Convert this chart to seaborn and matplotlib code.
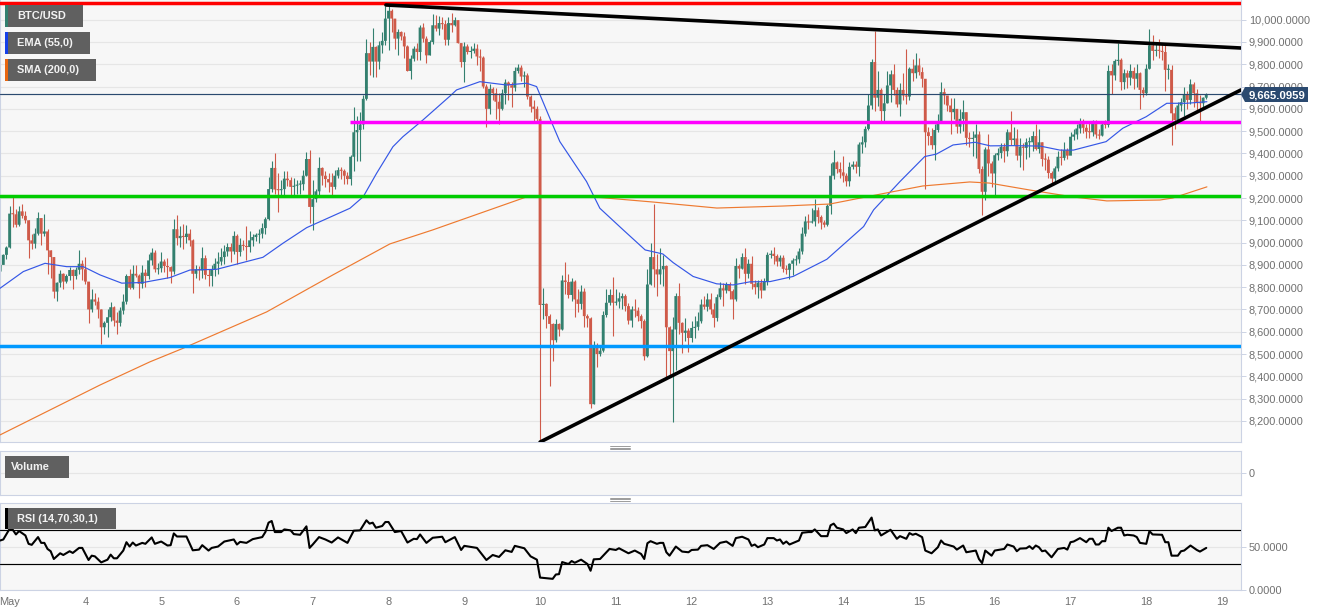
import numpy as np
import pandas as pd
import seaborn as sns
import matplotlib.pyplot as plt
from matplotlib.lines import Line2D
from matplotlib.patches import Polygon, Rectangle
from matplotlib.ticker import FuncFormatter

W, H = 1331, 615

# hourly candles, first one is 2 May 21:00, one row per day
closes = [
    8900, 8945, 8978,
    9130, 9127, 9080, 9140, 9120, 9100, 9010, 8995, 9040, 9110, 9040, 9050, 8965, 8935, 8780, 8820, 8860, 8825, 8850, 8877, 8850, 8878, 8905, 8880,
    8825, 8700, 8745, 8735, 8700, 8620, 8640, 8665, 8710, 8650, 8640, 8695, 8735, 8850, 8797, 8860, 8852, 8815, 8865, 8850, 8920, 8955, 8880, 8885,
    8915, 8895, 8890, 8870, 9060, 9020, 9030, 9025, 9040, 9010, 8860, 8880, 8875, 8930, 8855, 8850, 8880, 8905, 8915, 8935, 8960, 8980, 8960, 9030,
    8958, 8990, 8985, 8980, 9010, 9025, 9035, 9040, 9065, 9105, 9240, 9335, 9238, 9235, 9240, 9287, 9280, 9250, 9255, 9260, 9262, 9300, 9375, 9160,
    9195, 9230, 9335, 9300, 9285, 9270, 9250, 9300, 9325, 9322, 9300, 9285, 9385, 9495, 9505, 9530, 9645, 9850, 9812, 9878, 9812, 9885, 9905, 10005,
    10040, 10005, 9915, 9945, 9925, 9880, 9770, 9825, 9870, 9855, 9965, 9915, 9840, 9900, 9975, 9960, 9985, 9980, 9910, 9985, 9975, 9998, 9895, 9810,
    9880, 9855, 9860, 9870, 9835, 9830, 9700, 9600, 9690, 9670, 9632, 9600, 9670, 9718, 9706, 9695, 9770, 9785, 9745, 9750, 9655, 9610, 9600, 9555,
    8720, 8725, 8670, 8635, 8562, 8635, 8610, 8830, 8823, 8765, 8825, 8745, 8725, 8780, 8670, 8660, 8275, 8530, 8500, 8515, 8675, 8730, 8765, 8730,
    8735, 8750, 8760, 8715, 8650, 8700, 8695, 8670, 8648, 8490, 8812, 8935, 8880, 8857, 8880, 8895, 8620, 8513, 8610, 8760, 8640, 8595, 8605, 8572,
    8617, 8622, 8647, 8722, 8712, 8745, 8700, 8662, 8755, 8795, 8785, 8812, 8782, 8745, 8895, 8883, 8935, 8860, 8905, 8815, 8800, 8820, 8785, 8825,
    8945, 8950, 8940, 8915, 8932, 8882, 8878, 8905, 8920, 8925, 8960, 9040, 9095, 9090, 9095, 9145, 9115, 9090, 9080, 9165, 9300, 9360, 9330, 9315,
    9300, 9275, 9340, 9350, 9340, 9440, 9450, 9510, 9615, 9810, 9650, 9685, 9590, 9625, 9705, 9755, 9685, 9620, 9685, 9660, 9655, 9780, 9760, 9795,
    9765, 9735, 9495, 9478, 9437, 9505, 9540, 9675, 9660, 9615, 9585, 9600, 9520, 9555, 9585, 9470, 9465, 9470, 9485, 9330, 9228, 9418, 9355, 9310,
    9392, 9402, 9430, 9410, 9495, 9460, 9467, 9390, 9430, 9425, 9450, 9450, 9478, 9420, 9450, 9375, 9372, 9312, 9287, 9333, 9385, 9380, 9415, 9390,
    9475, 9485, 9512, 9535, 9515, 9497, 9495, 9540, 9485, 9480, 9530, 9528, 9770, 9750, 9815, 9820, 9720, 9760, 9740, 9770, 9735, 9760, 9685, 9670,
    9780, 9885, 9860, 9865, 9860, 9855, 9775, 9775, 9580, 9550, 9615, 9630, 9665, 9640, 9710, 9670, 9630, 9625, 9650, 9665,
]
highs = [
    8950, 8950, 8985,
    9165, 9205, 9150, 9165, 9172, 9140, 9100, 9040, 9065, 9135, 9110, 9130, 9060, 8965, 8935, 8825, 8875, 8865, 8860, 8890, 8880, 8890, 8965, 8920,
    8935, 8825, 8790, 8775, 8755, 8700, 8650, 8700, 8735, 8715, 8690, 8710, 8770, 8860, 8880, 8900, 8900, 8860, 8900, 8880, 8950, 8975, 8965, 8910,
    8960, 8925, 8930, 8895, 9105, 9125, 9075, 9085, 9080, 9060, 9015, 8900, 8895, 8980, 8945, 8880, 8900, 8930, 8960, 8975, 8990, 9000, 9000, 9050,
    9040, 9020, 9010, 9075, 9050, 9040, 9045, 9060, 9090, 9115, 9295, 9365, 9400, 9310, 9280, 9320, 9320, 9295, 9290, 9280, 9280, 9325, 9405, 9415,
    9280, 9240, 9385, 9340, 9320, 9310, 9310, 9325, 9340, 9340, 9330, 9315, 9395, 9610, 9570, 9585, 9660, 9915, 9900, 9965, 9880, 9905, 9945, 10060,
    10060, 10050, 10005, 9960, 9950, 9945, 9885, 9840, 9880, 9895, 9978, 9985, 9925, 9910, 10025, 10020, 10015, 10010, 10000, 10010, 10030, 10010, 10000, 9895,
    9900, 9890, 9880, 9895, 9890, 9870, 9835, 9710, 9710, 9700, 9695, 9670, 9690, 9735, 9725, 9720, 9790, 9800, 9795, 9770, 9760, 9660, 9640, 9615,
    9570, 8795, 8730, 8680, 8640, 8655, 8640, 8855, 8913, 8860, 8840, 8830, 8790, 8810, 8795, 8680, 8665, 8560, 8550, 8540, 8695, 8790, 8790, 8845,
    8790, 8780, 8775, 8770, 8730, 8715, 8745, 8710, 8680, 8655, 8880, 9000, 9175, 8950, 8975, 8945, 8900, 8625, 8665, 8775, 8820, 8645, 8660, 8615,
    8650, 8670, 8690, 8745, 8760, 8775, 8775, 8730, 8770, 8825, 8820, 8825, 8825, 8790, 8930, 8905, 8955, 8975, 8925, 8940, 8830, 8830, 8835, 8840,
    8960, 8965, 8980, 8950, 8945, 8945, 8900, 8910, 8930, 8945, 8975, 9070, 9120, 9130, 9155, 9195, 9160, 9125, 9100, 9175, 9355, 9415, 9365, 9360,
    9390, 9310, 9360, 9365, 9365, 9450, 9480, 9525, 9665, 9825, 9950, 9770, 9695, 9665, 9770, 9775, 9800, 9700, 9715, 9760, 9870, 9790, 9825, 9850,
    9830, 9790, 9730, 9520, 9515, 9530, 9575, 9720, 9695, 9650, 9650, 9650, 9600, 9600, 9640, 9585, 9495, 9500, 9530, 9500, 9345, 9430, 9487, 9365,
    9400, 9425, 9445, 9445, 9510, 9590, 9520, 9510, 9470, 9445, 9470, 9475, 9500, 9530, 9510, 9450, 9400, 9390, 9320, 9345, 9410, 9420, 9450, 9425,
    9495, 9510, 9530, 9560, 9555, 9530, 9535, 9550, 9550, 9510, 9545, 9550, 9795, 9800, 9825, 9895, 9830, 9780, 9775, 9800, 9790, 9800, 9765, 9700,
    9800, 9957, 9930, 9890, 9915, 9890, 9885, 9800, 9795, 9610, 9630, 9650, 9700, 9680, 9735, 9720, 9690, 9660, 9655, 9672,
]
lows = [
    8885, 8905, 8925,
    8975, 9070, 9070, 9075, 9110, 9090, 8930, 8970, 8975, 9035, 8990, 9030, 8860, 8840, 8750, 8740, 8800, 8790, 8820, 8830, 8790, 8835, 8860, 8830,
    8815, 8640, 8690, 8720, 8660, 8545, 8590, 8575, 8650, 8625, 8590, 8625, 8680, 8725, 8790, 8790, 8845, 8750, 8795, 8800, 8835, 8900, 8870, 8860,
    8870, 8870, 8840, 8820, 8860, 8990, 8980, 8970, 9000, 8985, 8775, 8840, 8830, 8840, 8835, 8805, 8805, 8850, 8860, 8900, 8905, 8940, 8915, 8950,
    8905, 8940, 8965, 8920, 8960, 8985, 9005, 9000, 9020, 9040, 9100, 9225, 9220, 9135, 9205, 9210, 9255, 9215, 9210, 9220, 9220, 9235, 9300, 9090,
    9055, 9180, 9210, 9260, 9250, 9225, 9205, 9240, 9290, 9285, 9265, 9265, 9260, 9320, 9365, 9365, 9510, 9640, 9750, 9745, 9745, 9780, 9850, 9885,
    9865, 9945, 9870, 9840, 9910, 9830, 9770, 9735, 9815, 9820, 9820, 9900, 9805, 9840, 9890, 9950, 9930, 9960, 9885, 9885, 9945, 9970, 9895, 9790,
    9720, 9845, 9830, 9850, 9795, 9770, 9695, 9520, 9575, 9640, 9555, 9530, 9595, 9620, 9640, 9610, 9680, 9760, 9725, 9700, 9645, 9585, 9540, 9545,
    8105, 8655, 8615, 8355, 8468, 8555, 8580, 8610, 8770, 8750, 8740, 8665, 8690, 8700, 8620, 8620, 8260, 8275, 8440, 8490, 8510, 8665, 8720, 8580,
    8720, 8705, 8700, 8695, 8635, 8620, 8665, 8650, 8615, 8475, 8485, 8810, 8800, 8760, 8815, 8805, 8393, 8400, 8195, 8430, 8590, 8505, 8560, 8510,
    8555, 8570, 8610, 8640, 8700, 8695, 8680, 8620, 8650, 8745, 8715, 8775, 8745, 8655, 8740, 8840, 8880, 8815, 8840, 8790, 8770, 8750, 8750, 8790,
    8810, 8930, 8905, 8895, 8895, 8870, 8860, 8835, 8855, 8900, 8910, 8950, 9030, 9060, 9090, 9075, 9090, 9060, 9070, 9075, 9130, 9285, 9310, 9290,
    9270, 9255, 9255, 9330, 9310, 9300, 9400, 9430, 9505, 9600, 9590, 9615, 9545, 9545, 9625, 9630, 9660, 9610, 9570, 9640, 9620, 9640, 9725, 9740,
    9750, 9700, 9240, 9440, 9420, 9370, 9495, 9535, 9620, 9590, 9485, 9555, 9490, 9490, 9500, 9440, 9430, 9390, 9380, 9310, 9123, 9190, 9300, 9250,
    9205, 9370, 9380, 9360, 9390, 9440, 9440, 9370, 9340, 9325, 9375, 9385, 9410, 9415, 9400, 9345, 9325, 9290, 9260, 9265, 9320, 9350, 9370, 9375,
    9410, 9460, 9465, 9490, 9490, 9470, 9470, 9480, 9470, 9465, 9480, 9515, 9520, 9665, 9730, 9795, 9685, 9690, 9695, 9705, 9690, 9700, 9600, 9655,
    9660, 9780, 9820, 9835, 9830, 9820, 9680, 9735, 9440, 9510, 9535, 9590, 9570, 9600, 9620, 9610, 9590, 9545, 9605, 9645,
]

ema_days = [2.873, 3.181, 3.467, 3.753, 3.972, 4.193, 4.479, 4.763, 5.116, 5.380, 5.732, 6.343, 6.607, 6.920, 7.491, 7.667,
            7.843, 8.058, 8.190, 8.454, 8.810, 8.898, 9.206, 9.558, 9.822, 9.954, 10.129, 10.261, 10.613, 10.789, 11.097,
            11.387, 11.62, 11.757, 12.02, 12.33, 12.547, 12.771, 13.035, 13.339, 13.784, 14.27, 14.402, 14.75, 15.076,
            15.23, 15.45, 15.74, 15.94, 16.24, 16.60, 16.86, 17.04, 17.47, 17.69, 18.0, 18.27, 18.35, 18.53, 18.80]
ema_vals = [8795, 8870, 8907, 8892, 8892, 8855, 8818, 8821, 8843, 8877, 8880, 8934, 8997, 9067, 9154, 9206,
            9311, 9430, 9475, 9550, 9657, 9685, 9722, 9707, 9715, 9700, 9558, 9453, 9274, 9154, 9057,
            8967, 8949, 8910, 8848, 8815, 8810, 8824, 8825, 8848, 8925, 9072, 9147, 9274, 9386,
            9397, 9438, 9450, 9434, 9435, 9433, 9415, 9415, 9453, 9513, 9565, 9625, 9625, 9625, 9632]

sma_days = [2.873, 3.533, 4.193, 4.852, 5.270, 6.392, 7.266, 8.018, 8.585, 8.810, 9.822, 10.697, 11.489, 12.333, 13.204,
            13.824, 14.575, 15.05, 15.67, 15.93, 16.46, 17.03, 17.48, 18.18, 18.35, 18.80]
sma_vals = [8137, 8249, 8361, 8465, 8523, 8689, 8855, 8994, 9057, 9084, 9205, 9205, 9182, 9155, 9164,
            9173, 9223, 9254, 9272, 9267, 9236, 9205, 9187, 9191, 9200, 9250]

# rsi read at the turning points, hour index counted from 3 May 00:00
rsi_hours = [-3, -2, 0, 1, 2, 3, 5, 6, 7, 9, 10, 11, 12, 13, 14, 16, 17, 19, 20, 22, 23, 25, 26, 27, 29, 31, 32, 33, 34, 36,
             37, 38, 39, 40, 42, 43, 45, 46, 48, 50, 51, 52, 53, 56, 58, 60, 61, 63, 64, 66, 68, 71, 72, 73, 75, 77, 80, 81, 82, 83,
             84, 86, 87, 89, 90, 92, 94, 95, 96, 98, 100, 102, 104, 107, 109, 111, 113, 114, 115, 116, 118, 119, 120, 122, 124, 126,
             128, 129, 130, 132, 134, 137, 138, 141, 143, 144, 148, 151, 153, 155, 157, 159, 160, 163, 165, 167, 168, 172, 173, 174,
             175, 177, 178, 179, 181, 183, 184, 185, 187, 189, 190, 192, 193, 194, 196, 198, 200, 201, 202, 203, 205, 206, 207, 208,
             209, 211, 213, 215, 216, 218, 219, 221, 223, 225, 227, 229, 230, 232, 234, 235, 236, 237, 239, 240, 242, 243, 244, 245,
             246, 247, 250, 251, 253, 254, 255, 257, 259, 260, 261, 262, 264, 265, 267, 268, 269, 271, 273, 274, 275, 276, 279, 281,
             282, 284, 285, 286, 287, 289, 290, 292, 294, 295, 296, 299, 300, 302, 303, 306, 307, 308, 309, 311, 312, 315, 316, 318,
             319, 320, 322, 323, 324, 325, 326, 327, 328, 330, 332, 334, 335, 336, 337, 339, 341, 342, 343, 344, 345, 346, 347, 348,
             349, 351, 352, 353, 354, 356, 357, 358, 360, 361, 362, 365, 366, 367, 368, 370, 371, 372, 374, 376, 377, 379]
rsi_vals = [57.5, 58.7, 71.3, 70.1, 64.6, 68.6, 63.4, 53.6, 52.4, 61.5, 54.7, 54.7, 47.6, 44.9, 35.8, 42.5, 40.5, 44.9, 42.9, 48.8, 48.8, 34.6, 39.7, 38.9, 31.8, 35, 40.9, 36.6, 36.6, 45.7,
            55.5, 50.4, 55.1, 51.6, 54.7, 53.6, 61.1, 53.6, 56.3, 51.6, 52, 65.8, 62.2, 62.2, 46, 46.8, 52, 45.7, 48.8, 50.4, 56.3, 58.7, 52.8, 55.9, 54.7, 59.1, 61.5, 67.4, 78.4, 80.4,
            67.4, 67.4, 70.5, 69.4, 65, 64.2, 74.1, 48.8, 52.8, 61.5, 58.7, 55.1, 61.1, 54.7, 69, 69.4, 81.2, 77.3, 78.4, 72.5, 74.5, 79.2, 79.2, 67.4, 68.6, 55.1,
            59.5, 59.1, 64.6, 54.7, 60.7, 61.9, 55.5, 61.5, 46.4, 51.2, 48.8, 34.6, 40.5, 38.2, 46, 44.1, 51.2, 48.4, 38.9, 35, 14, 12.5, 17.6, 18,
            32.2, 29.9, 33.4, 31.4, 35, 29.9, 22, 35.4, 35.8, 43.7, 47.6, 46.4, 48.4, 46.4, 42.5, 45.7, 41.7, 35.8, 54.3, 56.7, 53.6, 54.7, 54.7, 43.7,
            39.7, 50.4, 44.5, 43.7, 46.4, 46.8, 51.2, 52, 47.6, 54.7, 56.3, 51.2, 60.3, 61.9, 58.7, 51.2, 52.8, 49.6, 52.8, 60.3, 60.3, 57.5, 58.7, 53.6,
            56.3, 52.8, 57.5, 66.6, 67.4, 67.4, 70.5, 62.6, 62.6, 75.3, 77.3, 72.5, 70.5, 66.2, 70.5, 66.2, 72.5, 73.3, 84.4, 69.4, 70.5, 63.4, 70.1, 59.5,
            62.6, 59.5, 66.2, 64.2, 65.4, 61.5, 45.7, 42.5, 49.6, 57.5, 53.6, 50.4, 46.8, 51.6, 43.7, 45.7, 35.8, 31, 45.7, 39.7, 45.7, 47.6, 52.8, 50.4,
            44.9, 48, 48.4, 50.8, 47.6, 51.6, 49.6, 44.9, 45.7, 37.8, 47.6, 48.8, 46.8, 55.5, 56.3, 60.3, 55.5, 59.5, 59.5, 52.8, 52.8, 56.7, 56.7, 72.5,
            68.6, 72.5, 72.5, 63.4, 64.2, 63.4, 61.5, 54.7, 53.6, 68.6, 64.6, 64.2, 55.5, 55.5, 39.7, 39.7, 44.9, 45.7, 51.6, 46.4, 44.5, 48.8]

last_price = 9665.0959
resistance_top = 10075
level_magenta = 9541
level_green = 9211
level_blue = 8538
upper_trend_days = [7.966, 19.25]
upper_trend_vals = [10066, 9873]
lower_trend_days = [10.0, 19.25]
lower_trend_vals = [8105, 9685]

price_ticks = list(range(8200, 10001, 100))
date_ticks = list(range(3, 20))
date_labels = ['May'] + [str(d) for d in range(4, 20)]
rsi_ticks = [0, 50]

UP = '#33806f'
DOWN = '#cf5a49'
BG = '#f7f7f7'
GRID = '#e6e6e6'
EDGE = '#ccd3e4'
TEXT = '#707070'
TAG = '#2b4a70'

sns.set_theme(style='white')
plt.rcParams['font.family'] = ['Liberation Sans', 'DejaVu Sans']


def panel(fig, top, bottom):
    ax = fig.add_axes([0, 1 - bottom / H, 1241 / W, (bottom - top) / H])
    ax.set_facecolor(BG)
    for side in ax.spines.values():
        side.set_color(EDGE)
        side.set_linewidth(0.8)
    ax.yaxis.tick_right()
    ax.tick_params(axis='y', length=3.6, width=0.7, color=EDGE, labelcolor=TEXT, labelsize=7.9, pad=2)
    ax.tick_params(axis='x', length=0)
    ax.set_xlim(2.873, 19.25)
    ax.set_xticks([])
    return ax


def box(fig, x0, y0, x1, y1, color, **kw):
    fig.add_artist(Rectangle((x0 / W, 1 - y1 / H), (x1 - x0) / W, (y1 - y0) / H,
                             transform=fig.transFigure, facecolor=color, edgecolor='none', **kw))


def tag(fig, x0, y0, x1, y1, strip, label):
    box(fig, x0, y0, x1, y1, '#606060')
    box(fig, x0, y0, x0 + 3, y1, strip)
    fig.text((x0 + 12) / W, 1 - (y0 + y1) / 2 / H, label, color='#f2f2f2', fontsize=7.9,
             fontweight='bold', va='center', ha='left')


def sash(fig, y):
    for dy in (0, 1.7, 3.4):
        fig.add_artist(Line2D([610 / W, 630 / W], [1 - (y + dy) / H] * 2, color='#8c8c8c', lw=0.6,
                              transform=fig.transFigure))


def draw_line(ax, x, y, color, lw, z):
    sns.lineplot(x=x, y=y, ax=ax, color=color, linewidth=lw, errorbar=None, sort=False, zorder=z)


fig = plt.figure(figsize=(W / 100, H / 100), dpi=100, facecolor='white')
ax_price = panel(fig, 0, 442)
ax_vol = panel(fig, 451.4, 495)
ax_rsi = panel(fig, 503, 589.5)

# candles
df = pd.DataFrame({'close': closes, 'high': highs, 'low': lows})
df['open'] = df['close'].shift(1).fillna(df['close'] - 30)
df['day'] = 3 + (np.arange(len(df)) - 3) / 24
df['color'] = np.where(df['close'] >= df['open'], UP, DOWN)
ax_price.vlines(df['day'], df['low'], df['high'], colors=df['color'], linewidth=0.8, zorder=2)
# thin candles should not vanish, keep at least about a pixel of body
body = (df['close'] - df['open']).abs().clip(lower=5)
ax_price.bar(df['day'], body, bottom=df[['open', 'close']].min(axis=1),
             width=0.038, color=df['color'], linewidth=0, zorder=2, snap=False)

draw_line(ax_price, ema_days, ema_vals, '#3557e6', 0.85, 3)
draw_line(ax_price, sma_days, sma_vals, '#ee7a30', 0.85, 3)

ax_price.axhline(last_price, color=TAG, lw=0.85, zorder=4)
ax_price.axhline(resistance_top, color='#ff0000', lw=2.5, zorder=5)
ax_price.axhline(level_green, color='#00cc00', lw=2.5, zorder=5)
ax_price.axhline(level_blue, color='#0099ff', lw=2.5, zorder=5)
ax_price.hlines(level_magenta, 7.49, 19.25, color='#ff00ff', lw=2.5, zorder=5)
draw_line(ax_price, upper_trend_days, upper_trend_vals, 'black', 2.6, 6)
draw_line(ax_price, lower_trend_days, lower_trend_vals, 'black', 2.6, 6)

ax_price.set_ylim(8105.3, 10088.4)
ax_price.set_yticks(price_ticks)
ax_price.yaxis.set_major_formatter(FuncFormatter(lambda v, _: f'{v:,.4f}'))
ax_price.grid(axis='y', color=GRID, lw=0.85, zorder=0)
ax_price.grid(axis='x', visible=False)
ax_price.set_axisbelow(True)
ax_price.set(xlabel='', ylabel='')
ax_price.spines['top'].set_visible(False)

# volume is empty, only the zero line
ax_vol.set_ylim(-1, 1)
ax_vol.set_yticks([0])
ax_vol.set_yticklabels(['0'])
ax_vol.grid(axis='y', color=GRID, lw=0.85)
ax_vol.grid(axis='x', visible=False)

# rsi
rsi_days = [3 + h / 24 for h in rsi_hours]
ax_rsi.axhline(70, color='black', lw=0.85, zorder=3)
ax_rsi.axhline(30, color='black', lw=0.85, zorder=3)
draw_line(ax_rsi, rsi_days, rsi_vals, 'black', 1.5, 4)
ax_rsi.set_ylim(0, 101.5)
ax_rsi.set_yticks(rsi_ticks)
ax_rsi.set_yticklabels(['0.0000', '50.0000'])
ax_rsi.grid(axis='y', color=GRID, lw=0.85, zorder=0)
ax_rsi.grid(axis='x', visible=False)
ax_rsi.set_axisbelow(True)
ax_rsi.set_xticks(date_ticks)
ax_rsi.set_xticklabels(date_labels)
ax_rsi.tick_params(axis='x', length=3, width=0.7, color=EDGE, labelcolor=TEXT, labelsize=7.9, pad=2.5)
ax_rsi.set(xlabel='', ylabel='')

# legend chips
tag(fig, 5, 5, 83, 27, UP, 'BTC/USD')
tag(fig, 5, 32, 90, 54, '#1540e8', 'EMA (55,0)')
tag(fig, 5, 59, 96, 81, '#e8660f', 'SMA (200,0)')
box(fig, 5, 456, 69, 478, '#606060')
fig.text(11 / W, 1 - 467 / H, 'Volume', color='#f2f2f2', fontsize=7.9, fontweight='bold', va='center')
tag(fig, 5, 508, 116, 529, '#000000', 'RSI (14,70,30,1)')

sash(fig, 446)
sash(fig, 497.5)

# last price tag on the axis
y_tag = 94.5
fig.add_artist(Polygon([(1241 / W, 1 - y_tag / H), (1245 / W, 1 - 87 / H), (1308 / W, 1 - 87 / H),
                        (1308 / W, 1 - 102 / H), (1245 / W, 1 - 102 / H)],
                       closed=True, transform=fig.transFigure, facecolor=TAG, edgecolor='none'))
fig.text(1249 / W, 1 - y_tag / H, f'{last_price:,.4f}', color='white', fontsize=8.2, fontweight='bold',
         va='center_baseline', ha='left')

fig.savefig('out.png', dpi=100)
